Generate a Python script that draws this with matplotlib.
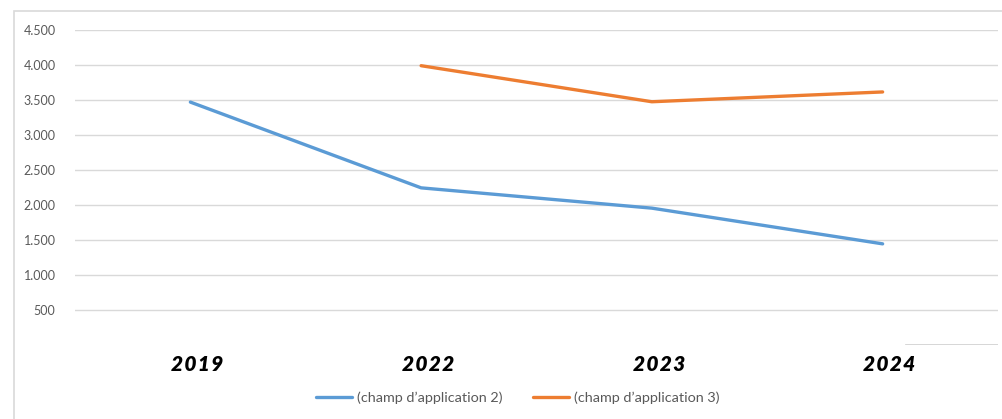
import matplotlib
matplotlib.use("Agg")
import matplotlib.pyplot as plt
from matplotlib.patches import Rectangle
from matplotlib.ticker import FuncFormatter
import numpy as np

# données
years = ["2019", "2022", "2023", "2024"]
champ2 = [3470, 2245, 1955, 1445]
champ3 = [np.nan, 3990, 3475, 3615]
labels = ["(champ d\u2019application 2)", "(champ d\u2019application 3)"]

W, H = 1002, 419
fig = plt.figure(figsize=(W / 100, H / 100), dpi=100)

# cadre du graphique
fig.patches.append(Rectangle((14 / W, -0.1), 1.2, (H - 11) / H + 0.1,
                             transform=fig.transFigure, fill=False,
                             edgecolor="#d9d9d9", linewidth=1.2))

ax = fig.add_axes([75 / W, (H - 345) / H, (998 - 75) / W, (345 - 30) / H])
x = np.arange(len(years))
ax.plot(x, champ2, color="#5B9BD5", linewidth=2.4, label=labels[0],
        solid_capstyle="round")
ax.plot(x, champ3, color="#ED7D31", linewidth=2.4, label=labels[1],
        solid_capstyle="round")

ax.set_xlim(-0.5, 3.5)
ax.set_ylim(0, 4500)
ax.set_yticks(np.arange(500, 4501, 500))
ax.yaxis.set_major_formatter(FuncFormatter(lambda v, p: f"{int(v):,}".replace(",", ".")))
ax.grid(axis="y", color="#d9d9d9", linewidth=1.0)
ax.axhline(0, xmin=0.9, xmax=1.0, color="#cfcfcf", linewidth=1.2)
ax.set_axisbelow(True)
for s in ax.spines.values():
    s.set_visible(False)

ax.tick_params(axis="y", length=0, pad=14, labelcolor="#595959")
for t in ax.get_yticklabels():
    t.set_fontfamily("Lato")
    t.set_fontsize(9)
ax.tick_params(axis="x", length=0, pad=7)
ax.set_xticks(x + 0.03)
# chiffres un peu espacés comme dans l'original
ax.set_xticklabels(["\u200a".join(y) for y in years],
                   fontfamily=["Lato", "DejaVu Sans"], fontweight="heavy",
                   fontstyle="italic", fontsize=15, color="black")

leg = fig.legend(loc="center", bbox_to_anchor=(518 / W, (H - 398) / H), ncol=2,
                 frameon=False, prop={"family": "Lato", "size": 10.4},
                 handlelength=2.5, columnspacing=2.1, handletextpad=0.35)
for t in leg.get_texts():
    t.set_color("#595959")

fig.savefig("out.png", dpi=100)
